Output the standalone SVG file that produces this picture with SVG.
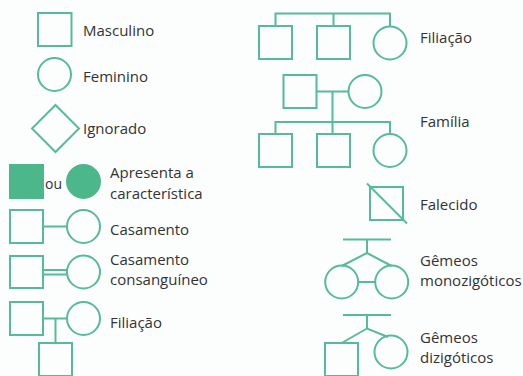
<svg xmlns="http://www.w3.org/2000/svg" width="523" height="376" viewBox="0 0 523 376">
<style>
.s{fill:none;stroke:#55bb98;stroke-width:2}
.f{fill:#4cb78b;stroke:#4cb78b;stroke-width:2}
.l{fill:none;stroke:#55bb98;stroke-width:2}
text{font-family:"Open Sans","Noto Sans",sans-serif;font-size:15px;fill:#333}
</style>
<rect width="523" height="376" fill="#fcfefe"/>
<g id="connectors">
<line class="l" x1="43" y1="226.5" x2="67" y2="226.5"/>
<line class="l" x1="43" y1="270" x2="67.5" y2="270"/>
<line class="l" x1="43" y1="274.5" x2="67.5" y2="274.5"/>
<line class="l" x1="43" y1="318.5" x2="67" y2="318.5"/>
<line class="l" x1="55.5" y1="318.5" x2="55.5" y2="343"/>
<polyline class="l" points="275.5,26 275.5,13.5 390,13.5 390,26.5"/>
<line class="l" x1="333.5" y1="13.5" x2="333.5" y2="26"/>
<line class="l" x1="316.5" y1="91.5" x2="348.5" y2="91.5"/>
<line class="l" x1="332.5" y1="91.5" x2="332.5" y2="134"/>
<polyline class="l" points="275.5,134 275.5,122 390,122 390,134"/>
<line class="l" x1="367" y1="183.5" x2="407" y2="223.5"/>
<line class="l" x1="343" y1="239.5" x2="391" y2="239.5"/>
<line class="l" x1="367" y1="239.5" x2="367" y2="253"/>
<polyline class="l" points="341.7,266 367,253 391.7,266"/>
<line class="l" x1="358.2" y1="282" x2="375.2" y2="282"/>
<line class="l" x1="343" y1="315" x2="391" y2="315"/>
<line class="l" x1="367" y1="315" x2="367" y2="328.5"/>
<polyline class="l" points="341.7,343 367,328.5 388,337"/>
</g>
<g id="masculino"><rect class="s" x="38" y="13" width="33.5" height="33"/><text x="83" y="36">Masculino</text></g>
<g id="feminino"><circle class="s" cx="54.5" cy="74.5" r="16.5"/><text x="83" y="82">Feminino</text></g>
<g id="ignorado"><polygon class="s" points="55.5,105 79,128.5 55.5,152 32,128.5"/><text x="83" y="134">Ignorado</text></g>
<g id="apresenta"><rect class="f" x="10" y="165" width="33" height="33"/><text x="45" y="189" style="font-size:14px">ou</text><circle class="f" cx="83.5" cy="181.5" r="16.5"/><text x="110" y="178">Apresenta a</text><text x="110" y="199">característica</text></g>
<g id="casamento"><rect class="s" x="10" y="210" width="33" height="33"/><circle class="s" cx="83.5" cy="226.5" r="16.5"/><text x="110" y="235">Casamento</text></g>
<g id="consanguineo"><rect class="s" x="10" y="256" width="33" height="32"/><circle class="s" cx="83.5" cy="272" r="16.5"/><text x="110" y="265">Casamento</text><text x="110" y="285">consanguíneo</text></g>
<g id="filiacao-esq"><rect class="s" x="10" y="302" width="33" height="33"/><circle class="s" cx="83.5" cy="318.5" r="16.5"/><rect class="s" x="39" y="343" width="33" height="33"/><text x="110" y="328">Filiação</text></g>
<g id="filiacao-dir"><rect class="s" x="259" y="26" width="33" height="33"/><rect class="s" x="317" y="26" width="33" height="33"/><circle class="s" cx="390" cy="43" r="16.5"/><text x="420" y="43">Filiação</text></g>
<g id="familia"><rect class="s" x="283.5" y="75" width="33" height="33"/><circle class="s" cx="365" cy="91.5" r="16.5"/><rect class="s" x="259" y="134" width="33" height="33"/><rect class="s" x="317" y="134" width="33" height="33"/><circle class="s" cx="390" cy="150.5" r="16.5"/><text x="420" y="127">Família</text></g>
<g id="falecido"><rect class="s" x="370" y="187" width="33" height="33"/><text x="420" y="210">Falecido</text></g>
<g id="monozigoticos"><circle class="s" cx="341.7" cy="282" r="16.5"/><circle class="s" cx="391.7" cy="282" r="16.5"/><text x="420" y="266">Gêmeos</text><text x="420" y="286">monozigóticos</text></g>
<g id="dizigoticos"><rect class="s" x="325" y="343" width="33" height="33"/><circle class="s" cx="391" cy="352" r="16.5"/><text x="420" y="343">Gêmeos</text><text x="420" y="363">dizigóticos</text></g>
</svg>
